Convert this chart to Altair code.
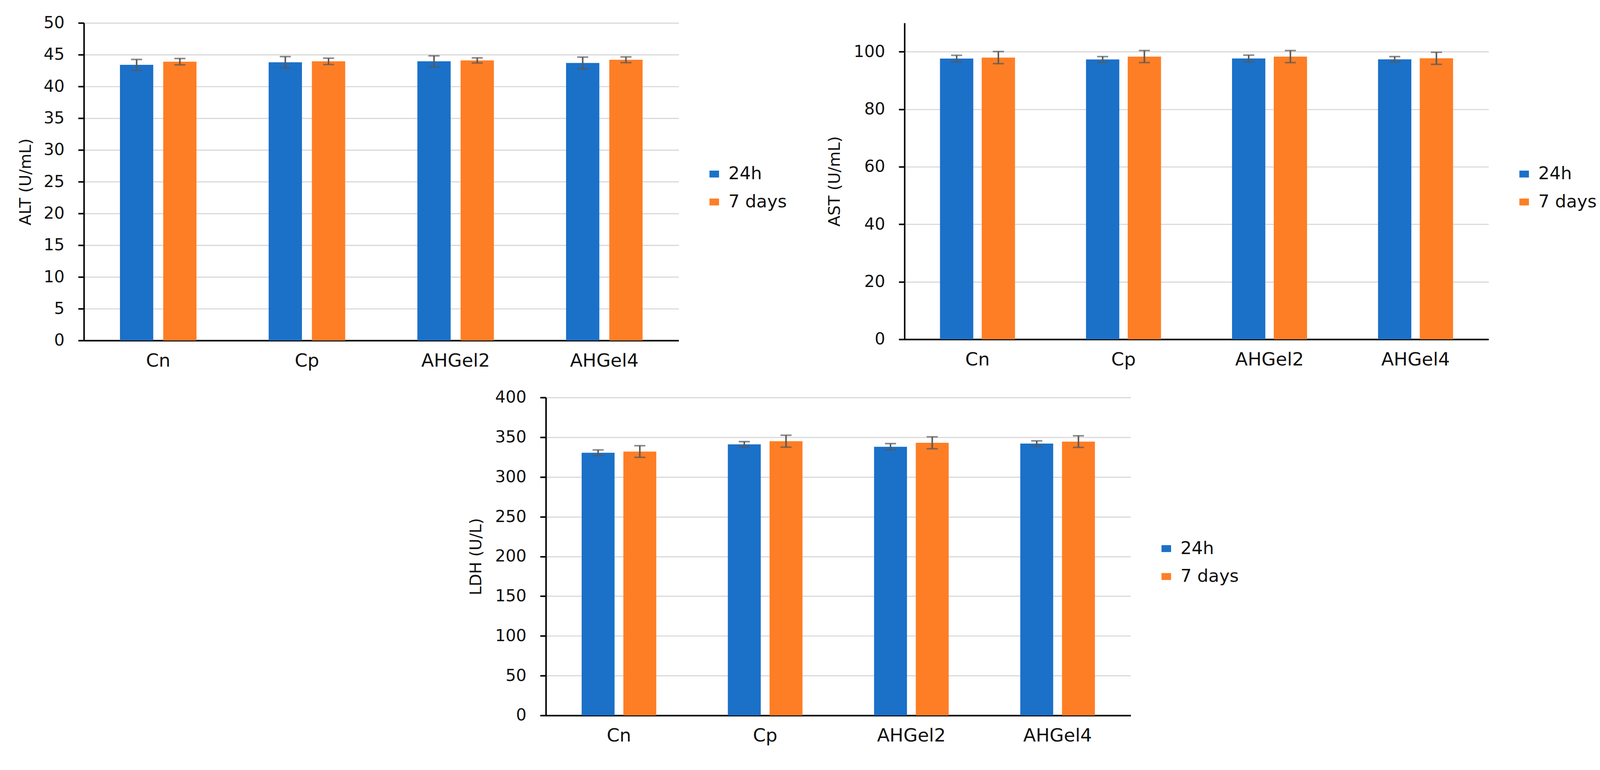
import altair as alt
import pandas as pd

categories = ["Cn", "Cp", "AHGel2", "AHGel4"]
series = ["24h", "7 days"]
colors = ["#1b70c8", "#fe7e26"]

alt_24h = [43.4, 43.8, 43.95, 43.7]
alt_24h_err = [0.85, 0.9, 0.87, 0.92]
alt_7d = [43.9, 43.95, 44.1, 44.2]
alt_7d_err = [0.5, 0.5, 0.4, 0.45]

ast_24h = [97.6, 97.3, 97.65, 97.35]
ast_24h_err = [1.15, 1.0, 1.15, 0.95]
ast_7d = [97.95, 98.3, 98.3, 97.7]
ast_7d_err = [2.1, 2.1, 2.1, 2.1]

ldh_24h = [330.5, 341.0, 338.0, 342.0]
ldh_24h_err = [3.5, 3.5, 4.0, 3.4]
ldh_7d = [332.0, 345.0, 343.0, 344.5]
ldh_7d_err = [7.3, 7.5, 7.5, 7.3]

alt_ticks = [0, 5, 10, 15, 20, 25, 30, 35, 40, 45, 50]
ast_ticks = [0, 20, 40, 60, 80, 100]
ldh_ticks = [0, 50, 100, 150, 200, 250, 300, 350, 400]

FONT = "DejaVu Sans"
RECT = "M-1,-0.72L1,-0.72L1,0.72L-1,0.72Z"


def make_df(m24, e24, m7, e7):
    rows = []
    for i, c in enumerate(categories):
        rows.append({"cat": c, "series": series[0], "mean": m24[i],
                     "lo": m24[i] - e24[i], "hi": m24[i] + e24[i]})
        rows.append({"cat": c, "series": series[1], "mean": m7[i],
                     "lo": m7[i] - e7[i], "hi": m7[i] + e7[i]})
    return pd.DataFrame(rows)


def panel(df, ytitle, domain, ticks, width, height, pad_in, pad_in2,
          title_x, cap):
    x = alt.X("cat:N", sort=categories,
              scale=alt.Scale(paddingInner=pad_in, paddingOuter=pad_in / 2),
              axis=alt.Axis(title=None, labelAngle=0, ticks=False, tickSize=0,
                            domainColor="black", domainWidth=4, grid=False,
                            labelFont=FONT, labelFontSize=48, labelColor="#111111",
                            labelPadding=30))
    xo = alt.XOffset("series:N", sort=series,
                     scale=alt.Scale(paddingInner=pad_in2, paddingOuter=pad_in2 / 2))
    y_axis = alt.Axis(title=ytitle, values=ticks, grid=True, gridColor="#d9d9d9",
                      gridWidth=3, domainColor="black", domainWidth=4,
                      tickColor="black", tickWidth=4, tickSize=15,
                      labelFont=FONT, labelFontSize=43, labelColor="#111111",
                      labelPadding=36, titleFont=FONT, titleFontSize=42,
                      titleFontWeight="normal", titleColor="#111111",
                      titleAngle=270, titleBaseline="alphabetic",
                      titleAlign="center", titleX=title_x, titleY=height / 2)
    ysc = alt.Scale(domain=domain, nice=False, zero=True)
    base = alt.Chart(df)
    bars = base.mark_bar().encode(
        x=x, xOffset=xo,
        y=alt.Y("mean:Q", scale=ysc, axis=y_axis),
        color=alt.Color("series:N", sort=series,
                        scale=alt.Scale(domain=series, range=colors),
                        legend=alt.Legend(title=None, orient="none",
                                          legendX=width + 70, legendY=372,
                                          symbolType=RECT, symbolSize=625,
                                          symbolStrokeWidth=0, labelFont=FONT,
                                          labelFontSize=46, labelColor="#111111",
                                          labelOffset=14, rowPadding=27,
                                          padding=0)),
    )
    rules = base.mark_rule(color="#595959", strokeWidth=4).encode(
        x=x, xOffset=xo, y=alt.Y("lo:Q", scale=ysc), y2="hi:Q")
    cap_lo = base.mark_tick(color="#595959", thickness=4, size=cap).encode(
        x=x, xOffset=xo, y=alt.Y("lo:Q", scale=ysc))
    cap_hi = base.mark_tick(color="#595959", thickness=4, size=cap).encode(
        x=x, xOffset=xo, y=alt.Y("hi:Q", scale=ysc))
    return alt.layer(bars, rules, cap_lo, cap_hi).properties(width=width, height=height)


alt_chart = panel(make_df(alt_24h, alt_24h_err, alt_7d, alt_7d_err), "ALT (U/mL)",
                  [0, 50], alt_ticks, 1554, 830, 0.4183, 0.2301, -139, 29)
ast_chart = panel(make_df(ast_24h, ast_24h_err, ast_7d, ast_7d_err), "AST (U/mL)",
                  [0, 110], ast_ticks, 1526, 827, 0.4286, 0.2018, -169, 29)
ldh_chart = panel(make_df(ldh_24h, ldh_24h_err, ldh_7d, ldh_7d_err), "LDH (U/L)",
                  [0, 400], ldh_ticks, 1528, 831, 0.4293, 0.211, -169, 29)

spacer = alt.Chart(pd.DataFrame({"v": [0]})).mark_point(opacity=0, size=1).encode(
    x=alt.value(0), y=alt.value(0)).properties(width=1, height=1)

row1 = alt.hconcat(alt_chart, ast_chart, spacing=590, bounds="flush").resolve_scale(
    color="independent", x="independent", y="independent", xOffset="independent")
row2 = alt.hconcat(spacer, ldh_chart, spacing=1206, bounds="flush").resolve_scale(
    color="independent", x="independent", y="independent", xOffset="independent")

chart = alt.vconcat(row1, row2, spacing=50).resolve_scale(
    color="independent", x="independent", y="independent", xOffset="independent"
).properties(
    padding={"left": 38, "top": 11, "right": 0, "bottom": 0},
    background="white",
).configure_view(strokeWidth=0)

chart.save("out.html", embed_options={"renderer": "svg", "actions": False})
